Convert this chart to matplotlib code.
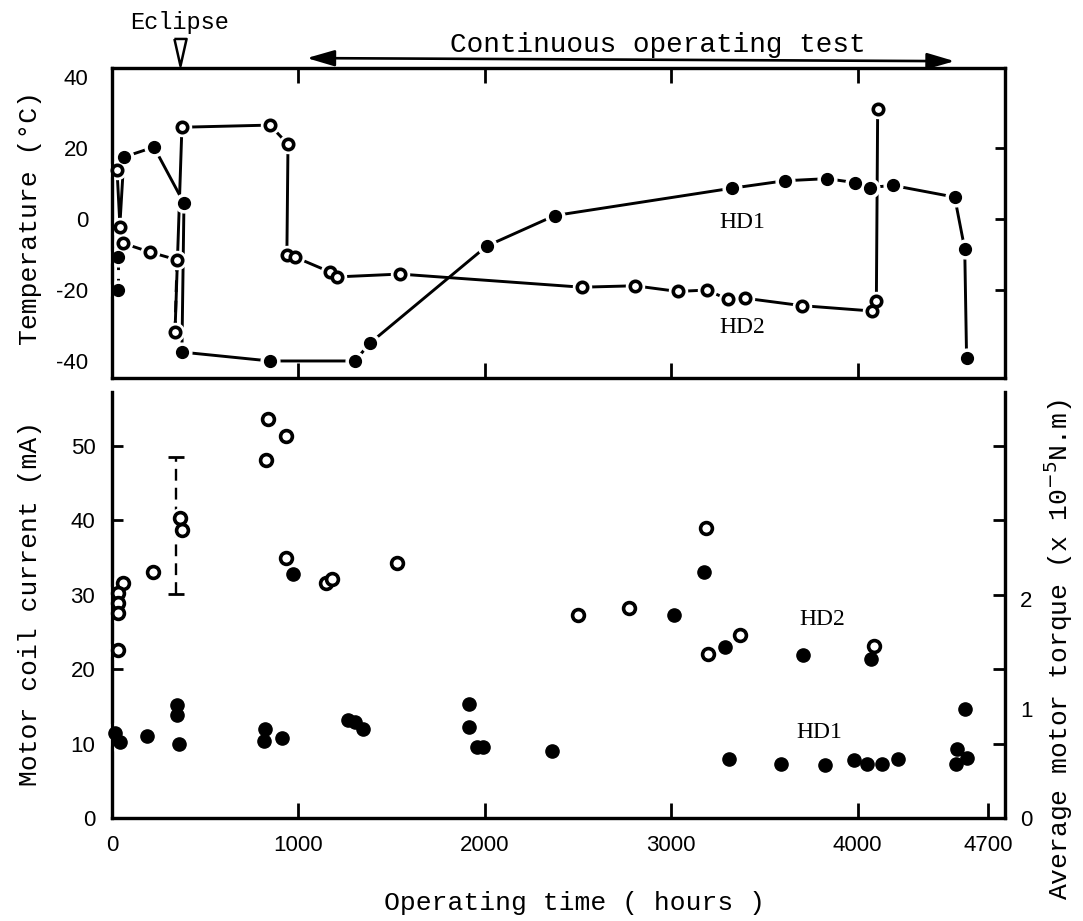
import matplotlib
matplotlib.use("Agg")
import matplotlib.pyplot as plt
import matplotlib.transforms as mtransforms
import numpy as np

# ---------------- data ----------------
# Temperature panel
hd1_temp_hours = [32, 32, 64, 225, 386, 375, 847, 1303, 1383, 2010, 2375, 3324,
                  3608, 3834, 3984, 4064, 4188, 4520, 4574, 4584]
hd1_temp_c = [-20.0, -10.7, 17.5, 20.3, 4.5, -37.5, -40.0, -40.0, -35.0, -7.6,
              1.0, 8.7, 10.8, 11.4, 10.3, 8.9, 9.5, 6.2, -8.4, -39.3]

hd2_temp_hours = [27, 43, 59, 204, 349, 338, 375, 847, 944, 938, 981, 1169, 1206,
                  1544, 2520, 2804, 3035, 3190, 3303, 3394, 3700, 4075, 4100, 4107]
hd2_temp_c = [13.8, -2.3, -6.8, -9.3, -11.5, -31.8, 25.9, 26.5, 21.1, -10.1, -10.7,
              -14.9, -16.3, -15.5, -19.2, -18.8, -20.4, -20.0, -22.6, -22.3, -24.4,
              -25.9, -23.1, 31.0]

# Motor coil current panel: open circles
current_open_hours = [59, 32, 32, 32, 32, 220, 365, 375, 836, 933, 826, 933, 1147,
                      1180, 1528, 2499, 2772, 3185, 3196, 3367, 4086]
current_open_ma = [31.5, 30.2, 28.9, 27.5, 22.6, 33.0, 40.3, 38.7, 53.6, 51.3, 48.1,
                   34.9, 31.5, 32.1, 34.2, 27.2, 28.2, 38.9, 22.0, 24.6, 23.1]

# Motor coil current panel: filled circles
current_filled_hours = [16, 43, 188, 349, 349, 359, 820, 815, 911, 970, 1265, 1303,
                        1346, 1914, 1914, 1957, 1990, 2359, 3013, 3174, 3287, 3308,
                        3587, 3705, 3823, 3979, 4048, 4070, 4129, 4214, 4531, 4525,
                        4584, 4574]
current_filled_ma = [11.4, 10.2, 11.0, 15.2, 13.8, 9.9, 11.9, 10.3, 10.7, 32.8, 13.2,
                     12.9, 11.9, 15.3, 12.2, 9.5, 9.5, 9.0, 27.2, 33.0, 23.0, 7.9,
                     7.2, 21.9, 7.1, 7.8, 7.3, 21.3, 7.2, 7.9, 9.2, 7.3, 8.0, 14.7]

# Scatter range bar near the eclipse
range_bar_hours = 343
range_bar_low_ma = 30.1
range_bar_high_ma = 48.5

# Axis ticks / labels
x_ticks = [0, 1000, 2000, 3000, 4000, 4700]
x_tick_labels = ["0", "1000", "2000", "3000", "4000", "4700"]
temp_ticks = [40, 20, 0, -20, -40]
current_ticks = [0, 10, 20, 30, 40, 50]
torque_ticks = [0, 1, 2]
MA_PER_TORQUE_UNIT = 14.7        # 1 x 10^-5 N.m  ==  14.7 mA on the scale

eclipse_hours = 365
continuous_start_hours = 1045
continuous_end_hours = 4520

# ---------------- styling ----------------
BLACK = "black"
MONO = ["Liberation Mono", "DejaVu Sans Mono"]
SANS = ["Liberation Sans", "DejaVu Sans"]
SERIF = ["Liberation Serif", "DejaVu Serif"]
LW = 2.1
SPINE_LW = 2.3
TICK_FS = 16

W, H = 1083, 921
fig = plt.figure(figsize=(W / 100, H / 100), dpi=100)

def fx(px):
    return px / W

def fy(py):
    return 1 - py / H

X_MAX = 4790

ax_t = fig.add_axes([fx(112), fy(378), fx(1005) - fx(112), fy(68) - fy(378)])
ax_c = fig.add_axes([fx(112), fy(818), fx(1005) - fx(112), fy(392) - fy(818)])


def markers(ax, x, y, filled, ms):
    ax.plot(x, y, ls="none", marker="o", ms=ms + 5, mfc="white", mec="white",
            zorder=3, clip_on=False)
    if filled:
        ax.plot(x, y, ls="none", marker="o", ms=ms, mfc=BLACK, mec=BLACK,
                zorder=4, clip_on=False)
    else:
        ax.plot(x, y, ls="none", marker="o", ms=ms - 0.5, mfc="white", mec=BLACK,
                mew=2.6, zorder=4, clip_on=False)


# ---------------- temperature panel ----------------
# HD1: dashed first step, then solid
ax_t.plot(hd1_temp_hours[:2], hd1_temp_c[:2], color=BLACK, lw=LW,
          ls=(0, (4, 3)), zorder=2)
ax_t.plot(hd1_temp_hours[1:], hd1_temp_c[1:], color=BLACK, lw=LW, zorder=2)
# HD2: solid, dashed eclipse drop (index 4 -> 5), solid
ax_t.plot(hd2_temp_hours[:5], hd2_temp_c[:5], color=BLACK, lw=LW, zorder=2)
ax_t.plot(hd2_temp_hours[4:6], hd2_temp_c[4:6], color=BLACK, lw=LW,
          ls=(0, (4, 3)), zorder=2)
ax_t.plot(hd2_temp_hours[5:], hd2_temp_c[5:], color=BLACK, lw=LW, zorder=2)

markers(ax_t, hd1_temp_hours, hd1_temp_c, True, 8.5)
markers(ax_t, hd2_temp_hours, hd2_temp_c, False, 8)

ax_t.set_xlim(0, X_MAX)
ax_t.set_ylim(-44.8, 42.6)
ax_t.set_yticks(temp_ticks)
ax_t.set_yticklabels([str(t) for t in temp_ticks], fontfamily=SANS, fontsize=TICK_FS)
ax_t.tick_params(axis="y", which="both", left=True, length=0, pad=17)
ax_t.set_xticks(x_ticks[1:5])
ax_t.tick_params(axis="x", direction="in", top=True, bottom=True, labelbottom=False,
                 length=11, width=2)
# right-hand inward ticks on the temperature frame
ax_tr = ax_t.twinx()
ax_tr.set_ylim(ax_t.get_ylim())
ax_tr.set_yticks([20, 0, -20])
ax_tr.tick_params(axis="y", direction="in", length=7, width=2, labelright=False)
for a in (ax_t, ax_tr):
    for s in a.spines.values():
        s.set_linewidth(SPINE_LW)

ax_t.text(3383, -1.1, "HD1", fontfamily=SERIF, fontsize=17, ha="center", va="center")
ax_t.text(3383, -30.7, "HD2", fontfamily=SERIF, fontsize=17, ha="center", va="center")

# Annotations above the frame
blend = mtransforms.blended_transform_factory(ax_t.transData, ax_t.transAxes)
tri = [(-0.45, 1.0), (0.45, 1.0), (0.0, -1.0), (-0.45, 1.0)]
ax_t.plot([eclipse_hours], [1.053], transform=blend, marker=tri, ms=19.5,
          mfc="white", mec=BLACK, mew=1.8, clip_on=False, ls="none")
ax_t.text(eclipse_hours, 1.148, "Eclipse", transform=blend, fontfamily=MONO,
          fontsize=17, ha="center", va="center")
ax_t.annotate("", xy=(continuous_end_hours, 1.022), xycoords=blend,
              xytext=(continuous_start_hours, 1.032), textcoords=blend,
              arrowprops=dict(arrowstyle="<|-|>,head_length=1.2,head_width=0.35",
                              lw=1.9, color=BLACK, shrinkA=0, shrinkB=0,
                              mutation_scale=14))
ax_t.text(2928, 1.074, "Continuous operating test", transform=blend,
          fontfamily=MONO, fontsize=20, ha="center", va="center")

# ---------------- current panel ----------------
ax_c.plot([range_bar_hours, range_bar_hours], [range_bar_low_ma, range_bar_high_ma],
          color=BLACK, lw=1.7, ls=(0, (5, 3)), zorder=2)
ax_c.plot([range_bar_hours, range_bar_hours], [range_bar_low_ma, range_bar_high_ma],
          ls="none", marker="_", ms=11, mew=2, color=BLACK, zorder=2)

markers(ax_c, current_open_hours, current_open_ma, False, 9)
markers(ax_c, current_filled_hours, current_filled_ma, True, 9.5)

ax_c.set_xlim(0, X_MAX)
ax_c.set_ylim(0, 57.2)
ax_c.set_xticks(x_ticks)
ax_c.set_xticklabels(x_tick_labels, fontfamily=SANS, fontsize=TICK_FS)
ax_c.set_yticks(current_ticks)
ax_c.set_yticklabels([str(t) for t in current_ticks], fontfamily=SANS, fontsize=TICK_FS)
ax_c.tick_params(axis="x", direction="in", length=11, width=2, pad=12)
ax_c.tick_params(axis="y", direction="in", length=8, width=2, pad=12)
ax_c.spines["top"].set_visible(False)

ax_q = ax_c.twinx()
ax_q.set_ylim(0, 57.2 / MA_PER_TORQUE_UNIT)
ax_q.set_yticks(torque_ticks)
ax_q.set_yticklabels([str(t) for t in torque_ticks], fontfamily=SANS, fontsize=TICK_FS)
ax_q.set_yticks(np.array(current_ticks[1:]) / MA_PER_TORQUE_UNIT, minor=True)
ax_q.tick_params(axis="y", which="major", length=0, pad=11)
ax_q.tick_params(axis="y", which="minor", direction="in", length=9, width=2)
ax_q.spines["top"].set_visible(False)
for a in (ax_c, ax_q):
    for s in a.spines.values():
        s.set_linewidth(SPINE_LW)

ax_c.text(3807, 26.6, "HD2", fontfamily=SERIF, fontsize=17, ha="center", va="center")
ax_c.text(3796, 11.5, "HD1", fontfamily=SERIF, fontsize=17, ha="center", va="center")

# ---------------- axis titles ----------------
fig.text(fx(30), fy(218), "Temperature (°C)", rotation=90, fontfamily=MONO,
         fontsize=19, ha="center", va="center")
fig.text(fx(30), fy(603), "Motor coil current (mA)", rotation=90, fontfamily=MONO,
         fontsize=19, ha="center", va="center")
fig.text(fx(575), fy(903), "Operating time ( hours )", fontfamily=MONO,
         fontsize=19, ha="center", va="center")
fig.text(fx(1058), fy(650), "Average motor torque (x 10$^{-5}$N.m)", rotation=90,
         fontfamily=MONO, fontsize=19, ha="center", va="center")

fig.savefig("out.png", dpi=100)
